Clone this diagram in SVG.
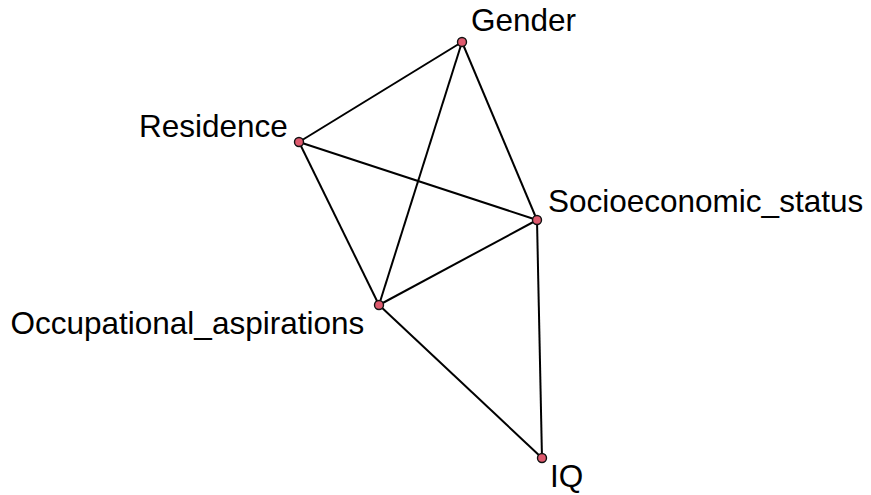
<svg xmlns="http://www.w3.org/2000/svg" width="871" height="495" viewBox="0 0 871 495">
<style>
.e{stroke:#000;stroke-width:2;fill:none}
.n{fill:#de5a6e;stroke:#111;stroke-width:1.4}
.t{font-family:"Liberation Sans",Arial,sans-serif;font-size:31.5px;fill:#000}
</style>
<rect width="871" height="495" fill="#fff"/>
<g id="edges">
<line class="e" x1="462" y1="42" x2="299" y2="142"/>
<line class="e" x1="462" y1="42" x2="379" y2="305"/>
<line class="e" x1="462" y1="42" x2="537" y2="220"/>
<line class="e" x1="299" y1="142" x2="537" y2="220"/>
<line class="e" x1="299" y1="142" x2="379" y2="305"/>
<line class="e" x1="379" y1="305" x2="537" y2="220"/>
<line class="e" x1="379" y1="305" x2="542" y2="458"/>
<line class="e" x1="537" y1="220" x2="542" y2="458"/>
</g>
<g id="Gender"><circle class="n" cx="462" cy="42" r="4.5"/><text class="t" x="471" y="31">Gender</text></g>
<g id="Residence"><circle class="n" cx="299" cy="142" r="4.5"/><text class="t" x="139" y="137">Residence</text></g>
<g id="Socioeconomic_status"><circle class="n" cx="537" cy="220" r="4.5"/><text class="t" x="548" y="212">Socioeconomic_status</text></g>
<g id="Occupational_aspirations"><circle class="n" cx="379" cy="305" r="4.5"/><text class="t" x="10.5" y="334">Occupational_aspirations</text></g>
<g id="IQ"><circle class="n" cx="542" cy="458" r="4.5"/><text class="t" x="550" y="487">IQ</text></g>
</svg>
